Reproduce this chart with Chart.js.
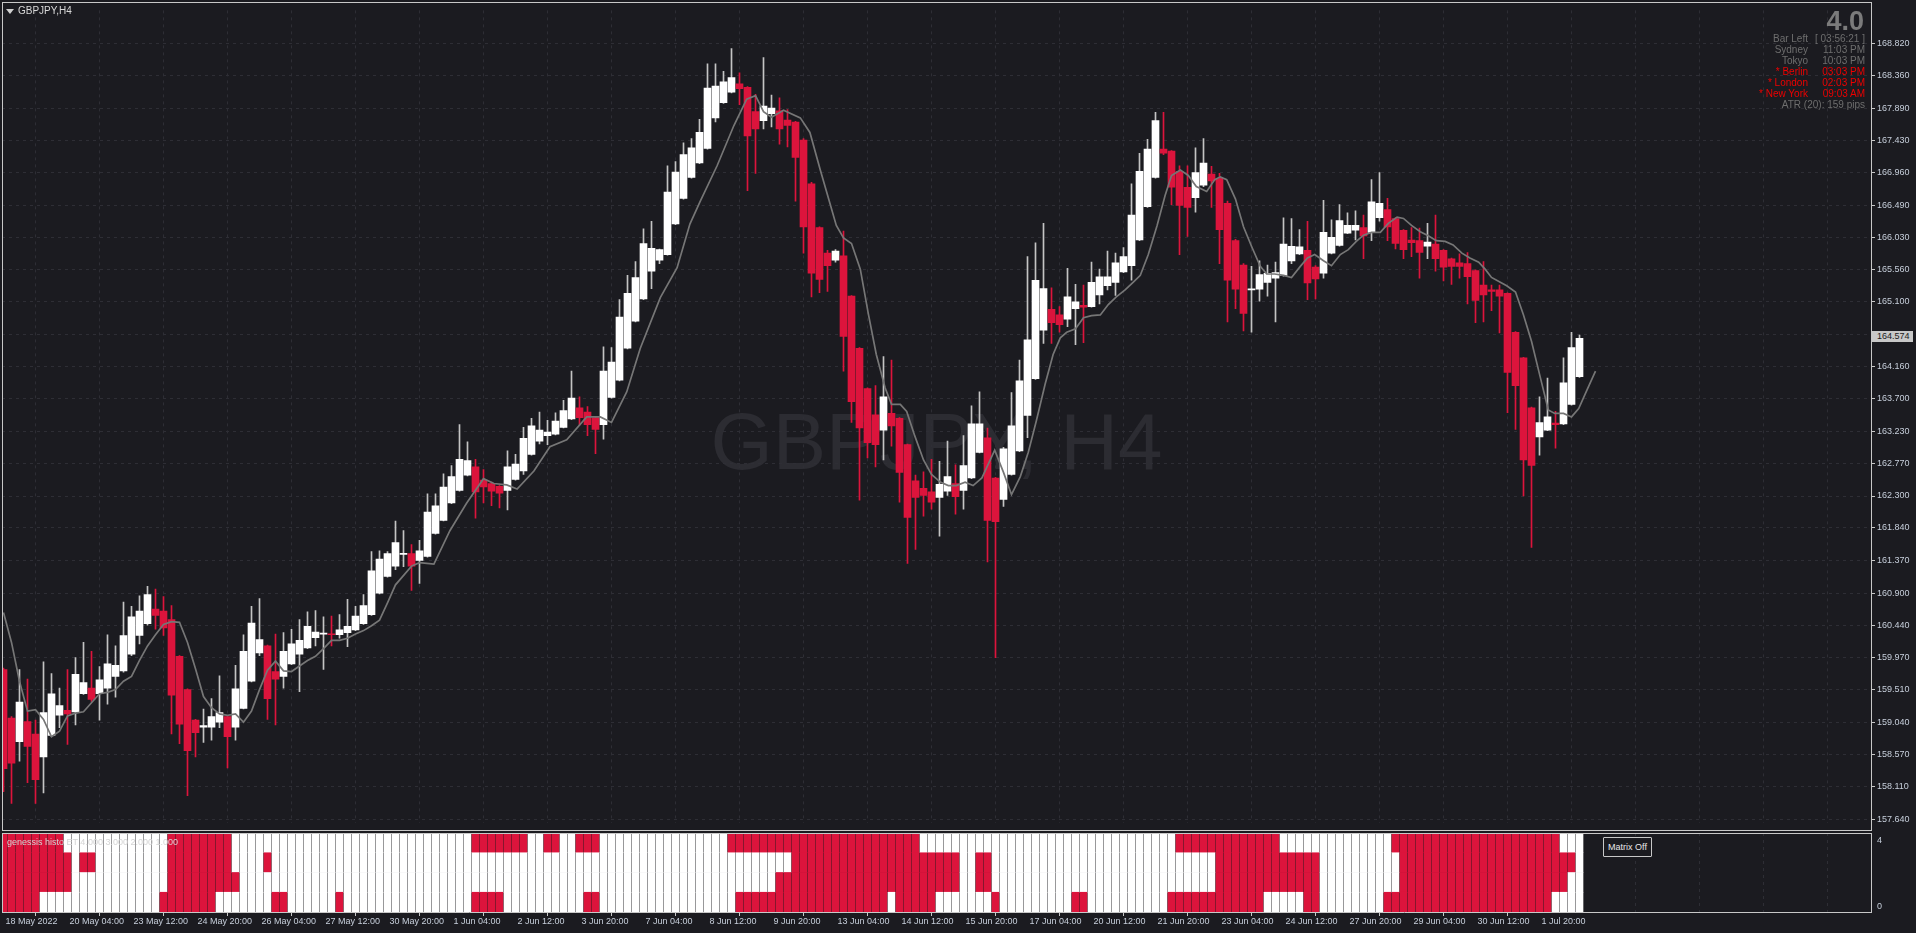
<!DOCTYPE html>
<html>
<head>
<meta charset="utf-8">
<script src="https://cdn.jsdelivr.net/npm/chart.js@4.4.0/dist/chart.umd.min.js"></script>
<style>
  html, body { margin: 0; padding: 0; width: 1916px; height: 933px; overflow: hidden;
    background: #1b1b20; font-family: "Liberation Sans", Arial, sans-serif; }
  canvas { position: absolute; z-index: 1; }
  #main { left: 2px; top: 3px; }
  #histo { left: 2px; top: 833px; }
  .frame { position: absolute; box-sizing: border-box; border: 1px solid #c8c8c8; z-index: 2; pointer-events: none; }
  .txt { position: absolute; z-index: 3; white-space: nowrap; }
  .info { font-size: 10px; line-height: 10px; text-align: right; }
  #watermark { position: absolute; left: 2px; top: 402px; width: 1869px; text-align: center;
    font-size: 80px; line-height: 80px; color: #2c2c32; z-index: 0; }
</style>
</head>
<body>
<div id="watermark">GBPJPY, H4</div>
<canvas id="main" width="1914" height="827" style="width:1914px;height:827px"></canvas>
<canvas id="histo" width="1914" height="100" style="width:1914px;height:100px"></canvas>
<div class="frame" style="left:2px;top:2px;width:1870px;height:829px"></div>
<div class="frame" style="left:2px;top:833px;width:1870px;height:80px;border-bottom:none;border-right:none"></div>

<div class="txt" style="left:6px;top:9px;width:0;height:0;border-left:4px solid transparent;border-right:4px solid transparent;border-top:5px solid #d0d0d0"></div>
<div class="txt" style="left:18px;top:6px;font-size:10px;line-height:10px;color:#d8d8d8">GBPJPY,H4</div>

<div class="txt" style="right:52px;top:8px;font-size:27px;line-height:27px;font-weight:bold;color:#7b7b7b">4.0</div>
<div class="txt info" style="right:108px;top:34px;color:#6e6e6e">Bar Left</div>
<div class="txt info" style="right:51px;top:34px;color:#6e6e6e">[ 03:56:21 ]</div>
<div class="txt info" style="right:108px;top:45px;color:#6e6e6e">Sydney</div>
<div class="txt info" style="right:51px;top:45px;color:#6e6e6e">11:03 PM</div>
<div class="txt info" style="right:108px;top:56px;color:#6e6e6e">Tokyo</div>
<div class="txt info" style="right:51px;top:56px;color:#6e6e6e">10:03 PM</div>
<div class="txt info" style="right:108px;top:67px;color:#ee0000">* Berlin</div>
<div class="txt info" style="right:51px;top:67px;color:#ee0000">03:03 PM</div>
<div class="txt info" style="right:108px;top:78px;color:#ee0000">* London</div>
<div class="txt info" style="right:51px;top:78px;color:#ee0000">02:03 PM</div>
<div class="txt info" style="right:108px;top:89px;color:#ee0000">* New York</div>
<div class="txt info" style="right:51px;top:89px;color:#ee0000">09:03 AM</div>
<div class="txt info" style="right:51px;top:100px;color:#6e6e6e">ATR (20): 159 pips</div>

<div class="txt" style="left:1872px;top:331px;width:41px;height:11px;background:#c8c8c8"></div>
<div class="txt" style="left:1877px;top:332px;font-size:9px;line-height:9px;color:#1b1b20">164.574</div>

<div class="txt" style="left:7px;top:838px;font-size:9px;line-height:9px;color:#d4d4d4">genessis histo ET 4.000 3.000 2.000 1.000</div>
<div class="txt" style="left:1877px;top:836px;font-size:9px;line-height:9px;color:#c7cfdb">4</div>
<div class="txt" style="left:1877px;top:902px;font-size:9px;line-height:9px;color:#c7cfdb">0</div>
<div class="txt" style="left:1603px;top:837px;width:49px;height:20px;box-sizing:border-box;border:1px solid #c8c8c8;border-radius:1px;background:#1b1b20;color:#e8e8e8;font-size:9px;line-height:18px;text-align:center">Matrix Off</div>

<script>
// GBPJPY H4 (Heikin-Ashi style candles)
var open = [159.80,159.10,158.76,159.05,158.87,158.54,158.85,159.14,159.21,159.19,
  159.45,159.53,159.45,159.53,159.70,159.78,160.02,160.29,160.46,160.67,
  160.64,160.52,159.99,159.51,159.07,158.97,158.97,159.04,159.12,158.97,
  159.24,159.63,160.04,160.14,159.77,159.70,159.88,160.02,160.11,160.26,
  160.31,160.31,160.30,160.33,160.37,160.46,160.59,160.90,161.14,161.29,
  161.46,161.47,161.37,161.43,161.76,161.95,162.20,162.38,162.60,162.72,
  162.53,162.48,162.44,162.38,162.54,162.66,162.90,163.09,163.17,163.19,
  163.29,163.41,163.57,163.51,163.43,163.33,163.72,163.97,164.43,164.82,
  165.14,165.54,165.70,165.78,166.22,166.59,166.89,167.10,167.31,167.75,
  167.97,168.12,168.24,168.19,167.84,167.71,167.81,167.85,167.72,167.69,
  167.43,166.80,166.17,165.80,165.70,165.76,165.18,164.43,163.85,163.47,
  163.25,163.49,163.42,163.04,162.52,162.41,162.36,162.28,162.37,162.48,
  162.38,162.56,162.93,163.14,162.56,162.25,162.61,162.95,163.46,163.99,
  164.69,164.99,164.91,164.85,165.00,165.05,165.03,165.20,165.33,165.38,
  165.53,165.62,165.99,166.47,166.89,167.30,167.27,166.98,166.75,166.60,
  166.78,166.94,166.88,166.52,165.98,165.63,165.27,165.28,165.38,165.44,
  165.48,165.69,165.79,165.84,165.60,165.51,165.80,165.91,166.09,166.13,
  166.17,166.10,166.31,166.43,166.30,166.13,165.99,165.98,165.90,165.93,
  165.84,165.72,165.66,165.65,165.55,165.34,165.27,165.27,165.22,164.66,
  164.29,163.57,163.15,163.25,163.35,163.34,163.62,164.02];
var high = [159.82,159.12,159.80,159.66,159.07,159.91,159.74,159.53,159.80,159.97,
  160.19,160.06,159.84,160.30,160.14,160.77,160.71,160.86,161.00,160.96,
  160.85,160.72,160.00,159.52,159.08,159.23,159.38,159.71,159.14,159.86,
  160.30,160.71,160.82,160.15,160.31,160.33,160.38,160.52,160.63,160.65,
  160.56,160.57,160.59,160.81,160.71,160.88,161.50,161.51,161.50,161.94,
  161.80,161.60,161.66,162.33,162.33,162.62,162.74,163.33,163.08,162.83,
  162.68,162.50,162.45,162.95,162.90,163.29,163.42,163.51,163.39,163.50,
  163.68,164.10,163.73,163.59,163.44,164.45,164.44,165.13,165.48,165.68,
  166.15,166.26,165.86,167.06,167.12,167.39,167.45,167.73,168.53,168.53,
  168.42,168.75,168.40,168.20,168.09,168.62,168.08,168.04,167.87,167.70,
  167.45,166.82,166.18,165.84,165.85,166.12,165.19,164.44,163.86,163.89,
  164.31,164.26,163.43,163.05,162.60,162.65,162.83,162.80,163.09,162.75,
  163.17,163.60,163.80,163.28,162.57,163.00,163.79,164.26,165.75,165.95,
  166.23,165.30,165.03,165.58,165.35,165.34,165.67,165.57,165.83,165.80,
  165.88,166.80,167.24,167.44,167.83,167.83,167.28,167.06,167.06,167.32,
  167.45,167.05,166.95,166.55,166.00,165.65,165.61,165.69,165.63,165.67,
  166.31,166.30,166.14,166.26,165.62,166.56,166.28,166.50,166.38,166.41,
  166.35,166.86,166.96,166.59,166.31,166.14,166.17,166.16,166.23,166.35,
  165.85,165.73,165.79,165.81,165.56,165.68,165.34,165.34,165.23,164.67,
  164.30,163.58,163.73,164.00,163.52,164.29,164.66,164.62];
var low = [158.04,157.87,158.48,158.17,157.87,158.02,158.83,158.96,158.72,159.00,
  159.44,159.34,159.07,159.30,159.40,159.76,160.00,160.17,160.44,160.38,
  160.29,158.87,158.73,157.98,158.54,158.75,158.78,158.96,158.38,158.78,
  159.23,159.62,160.00,159.08,159.00,159.53,159.87,159.48,160.10,160.14,
  159.80,160.14,160.25,160.13,160.36,160.45,160.58,160.89,161.13,161.24,
  161.28,160.94,161.04,161.42,161.75,161.94,162.19,162.37,162.59,161.98,
  162.20,162.16,162.13,162.10,162.53,162.61,162.89,163.05,163.04,163.18,
  163.28,163.40,163.32,163.17,162.91,163.12,163.71,163.96,164.42,164.81,
  165.13,165.29,165.65,165.77,166.21,166.58,166.88,167.09,167.30,167.69,
  167.96,168.11,167.94,166.70,166.95,167.59,167.62,167.37,167.33,166.55,
  165.80,165.17,165.23,165.25,165.67,164.10,163.36,162.24,162.85,162.72,
  162.82,163.02,162.21,161.33,161.53,162.01,162.11,161.72,162.31,162.04,
  162.11,162.55,162.92,161.35,159.97,162.15,162.60,162.94,163.14,163.98,
  164.50,164.50,164.66,164.74,164.48,164.51,165.02,165.07,165.27,165.19,
  165.52,165.41,165.98,166.46,166.88,167.22,166.50,165.78,166.04,166.39,
  166.76,166.46,165.65,164.81,165.00,164.68,164.66,165.11,165.18,164.81,
  165.47,165.65,165.78,165.13,165.14,165.44,165.79,165.90,166.08,165.99,
  165.72,165.98,166.26,165.98,165.86,165.72,165.75,165.44,165.72,165.54,
  165.40,165.35,165.44,165.07,164.80,164.81,164.97,164.65,163.50,163.26,
  162.30,161.56,162.89,163.24,162.99,163.33,163.61,164.01];
var close = [158.37,158.45,159.33,158.69,158.21,159.18,159.45,159.28,159.16,159.73,
  159.61,159.37,159.65,159.88,159.86,160.29,160.56,160.64,160.88,160.58,
  160.40,159.43,159.01,158.63,158.89,158.99,159.12,159.18,158.83,159.52,
  160.06,160.47,160.23,159.38,159.66,160.06,160.17,160.22,160.42,160.34,
  160.32,160.30,160.37,160.42,160.57,160.72,161.22,161.39,161.47,161.63,
  161.47,161.29,161.51,162.07,162.16,162.43,162.58,162.83,162.81,162.36,
  162.43,162.37,162.34,162.72,162.76,163.13,163.31,163.25,163.22,163.38,
  163.53,163.71,163.43,163.33,163.26,164.10,164.23,164.88,165.22,165.45,
  165.94,165.87,165.85,166.68,166.97,167.22,167.32,167.54,168.18,168.21,
  168.27,168.33,168.17,167.49,167.59,167.92,167.89,167.59,167.64,167.18,
  166.18,165.51,165.42,165.62,165.83,164.60,163.66,163.28,163.07,163.04,
  163.73,163.31,162.64,161.99,162.28,162.31,162.21,162.47,162.58,162.29,
  162.74,163.34,163.34,161.95,161.93,162.98,163.31,163.96,164.55,165.41,
  165.29,164.80,164.77,165.17,165.10,165.02,165.38,165.46,165.46,165.66,
  165.75,166.35,166.98,167.30,167.71,167.24,166.75,166.49,166.46,166.96,
  167.10,166.84,166.14,165.41,165.28,164.93,165.28,165.49,165.51,165.52,
  165.93,165.90,165.89,165.37,165.43,166.10,166.03,166.27,166.20,166.20,
  166.05,166.54,166.52,166.18,165.94,165.85,165.95,165.81,165.96,165.72,
  165.60,165.61,165.61,165.46,165.12,165.20,165.25,165.18,164.08,163.89,
  162.82,162.74,163.36,163.44,163.33,163.93,164.44,164.574];

// moving average line (drawn 2 bars ahead of price in the picture)
var maIdx = [0,1,2,3,4,5,6,7,8,9,10,11,12,13,14,15,16,17,18,19,20,21,22,23,24,25,26,27,28,29,
  30,31,32,33,34,35,36,37,38,39,40,41,42,43,44,45,46,47,48,49,
  51,52,53.8,55.8,57.9,60,61.3,62.9,64.2,66.3,68.3,70.4,72.9,74.6,76,77.9,79.6,82.1,84.2,85.8,87.1,89.2,91.3,92.9,94,95,96,97.5,
  99.6,100.8,102.1,103.3,104.1,105,106,107.1,108.1,109.1,110.2,111,112.1,112.9,113.9,115,116,117.1,118.1,119.1,120.2,121.2,122.3,
  123.9,125,126,127.1,128.1,129.1,130.2,131.2,132.1,132.9,134,135,136,137.1,138.1,139.1,140.2,141.2,142.1,143.1,144.2,145.2,146,147.1,148.1,149.1,
  150.4,151.4,152.1,152.9,154,155,156,157.1,157.9,158.9,160,161,162.1,163,163.9,165,166,167.1,168.1,169.1,170,171,172.1,173.1,174.2,175,176,
  177.1,178.1,179.1,180.2,181.2,182.3,183.3,184.4,185.2,186,187.1,187.9,189,190,191,192.1,193.1,193.9,195,196,196.9,197.9,199];
var maVal = [160.62,160.19,159.63,159.20,159.22,159.08,158.83,158.91,159.13,159.17,
  159.19,159.32,159.45,159.47,159.51,159.63,159.70,159.93,160.14,160.30,
  160.45,160.49,160.48,160.19,159.81,159.41,159.25,159.16,159.14,159.16,
  159.04,159.20,159.51,159.79,159.92,159.78,159.77,159.85,159.93,159.99,
  160.10,160.22,160.22,160.25,160.31,160.36,160.43,160.51,160.76,161.02,
  161.29,161.34,161.32,161.80,162.20,162.55,162.48,162.46,162.40,162.66,163.01,163.11,163.44,163.44,163.36,163.80,164.43,165.16,165.59,166.22,166.55,167.06,167.64,168.02,168.07,167.84,167.76,167.86,
  167.75,167.54,167.00,166.52,166.20,166.02,165.94,165.57,164.93,164.34,163.86,163.62,163.62,163.52,163.17,162.82,162.61,162.50,162.45,162.45,162.50,162.45,162.56,
  162.96,162.64,162.32,162.58,162.93,163.38,163.91,164.34,164.58,164.66,164.71,164.87,164.90,164.91,165.06,165.17,165.27,165.38,165.48,165.78,166.20,166.63,166.92,167.00,166.92,166.76,
  166.69,166.86,166.90,166.86,166.58,166.18,165.90,165.61,165.50,165.50,165.48,165.45,165.61,165.73,165.78,165.69,165.62,165.78,165.85,165.97,166.06,166.10,166.10,166.23,166.32,166.30,166.20,
  166.11,166.05,165.98,165.97,165.92,165.80,165.73,165.67,165.57,165.45,165.38,165.33,165.24,164.91,164.53,164.01,163.54,163.49,163.49,163.44,163.56,163.82,164.10];

// genessis histo matrix: red cell ranges [from, to] per row, every other cell white
var row4Red = [[0,7],[21,28],[59,65],[68,69],[72,74],[91,114],[147,159],[174,194]];
var row3Red = [[0,8],[10,11],[21,28],[33,33],[99,119],[122,123],[152,164],[175,196]];
var row2Red = [[0,8],[21,29],[97,119],[122,123],[152,164],[175,195]];
var row1Red = [[0,4],[20,26],[34,35],[42,42],[59,62],[73,74],[92,110],[112,116],[124,124],[134,135],[146,157],[163,164],[173,193]];

var tickLabels = ['18 May 2022','20 May 04:00','23 May 12:00','24 May 20:00','26 May 04:00','27 May 12:00',
  '30 May 20:00','1 Jun 04:00','2 Jun 12:00','3 Jun 20:00','7 Jun 04:00','8 Jun 12:00','9 Jun 20:00',
  '13 Jun 04:00','14 Jun 12:00','15 Jun 20:00','17 Jun 04:00','20 Jun 12:00','21 Jun 20:00','23 Jun 04:00',
  '24 Jun 12:00','27 Jun 20:00','29 Jun 04:00','30 Jun 12:00','1 Jul 20:00'];
var priceTicks = [157.64,158.11,158.57,159.04,159.51,159.97,160.44,160.90,161.37,161.84,162.30,162.77,163.23,
  163.70,164.16,164.63,165.10,165.56,166.03,166.49,166.96,167.43,167.89,168.36,168.82];

var RED = '#dc143c';
var GRID = '#2e2e35';
var AXIS = '#c8c8c8';
var LABEL = '#c7cfdb';
var X_MIN = -0.1875, X_MAX = 233.4375;

var idx = open.map(function (v, i) { return i; });
var up = idx.map(function (i) { return close[i] >= open[i]; });
var gridIdx = [];
for (var t = 0; t * 8 <= 232; t++) gridIdx.push(t * 8);

function isRed(ranges, i) {
  return ranges.some(function (r) { return i >= r[0] && i <= r[1]; });
}

new Chart(document.getElementById('main'), {
  type: 'bar',
  data: {
    datasets: [
      {
        data: idx.map(function (i) { return { x: i, y: [low[i], high[i]] }; }),
        backgroundColor: idx.map(function (i) { return up[i] ? '#c4c4c4' : RED; }),
        barThickness: 1, grouped: false, order: 3
      },
      {
        data: idx.map(function (i) { return { x: i, y: [open[i], close[i]] }; }),
        backgroundColor: idx.map(function (i) { return up[i] ? '#ffffff' : RED; }),
        barThickness: 7, minBarLength: 1, grouped: false, order: 2
      },
      {
        type: 'line',
        data: maIdx.map(function (k, j) { return { x: k, y: maVal[j] }; }),
        borderColor: '#767676', borderWidth: 1.7, pointRadius: 0, tension: 0, order: 1
      }
    ]
  },
  options: {
    responsive: false,
    animation: false,
    layout: { padding: 0 },
    plugins: { legend: { display: false }, tooltip: { enabled: false } },
    scales: {
      x: {
        type: 'linear', min: X_MIN, max: X_MAX, offset: false,
        afterBuildTicks: function (s) { s.ticks = gridIdx.map(function (v) { return { value: v }; }); },
        afterFit: function (s) { s.height = 0; },
        ticks: { display: false },
        grid: { color: GRID, drawTicks: false },
        border: { display: false, dash: [3, 4] }
      },
      y: {
        position: 'right', min: 157.593, max: 169.299,
        afterBuildTicks: function (s) { s.ticks = priceTicks.map(function (v) { return { value: v }; }); },
        afterFit: function (s) { s.width = 45; },
        ticks: {
          color: LABEL, padding: 2, autoSkip: false,
          font: { family: 'Liberation Sans', size: 9 },
          callback: function (v) { return Number(v).toFixed(3); }
        },
        grid: { color: GRID, tickColor: AXIS, tickLength: 4 },
        border: { display: true, color: AXIS, dash: [3, 4] }
      }
    }
  }
});

var rows = [row1Red, row2Red, row3Red, row4Red];
new Chart(document.getElementById('histo'), {
  type: 'bar',
  data: {
    datasets: rows.map(function (ranges, r) {
      return {
        data: idx.map(function (i) { return { x: i, y: [r, r + 1] }; }),
        backgroundColor: idx.map(function (i) { return isRed(ranges, i) ? RED : '#ffffff'; }),
        barThickness: 7, grouped: false
      };
    })
  },
  options: {
    responsive: false,
    animation: false,
    layout: { padding: 0 },
    plugins: { legend: { display: false }, tooltip: { enabled: false } },
    scales: {
      x: {
        type: 'linear', min: X_MIN, max: X_MAX, offset: false,
        afterBuildTicks: function (s) { s.ticks = gridIdx.map(function (v) { return { value: v }; }); },
        afterFit: function (s) { s.height = 21; },
        ticks: {
          color: LABEL, autoSkip: false, maxRotation: 0, minRotation: 0,
          align: 'start', labelOffset: 2, padding: 0,
          font: { family: 'Liberation Sans', size: 9 },
          callback: function (v, i) { return tickLabels[i] || ''; }
        },
        grid: {
          color: GRID, tickLength: 4,
          tickColor: function (c) { return c.index < tickLabels.length ? AXIS : 'rgba(0,0,0,0)'; }
        },
        border: { display: true, color: AXIS, dash: [3, 4] }
      },
      y: {
        position: 'right', min: 0, max: 4,
        afterFit: function (s) { s.width = 45; },
        ticks: { display: false },
        grid: { display: false },
        border: { display: true, color: AXIS }
      }
    }
  }
});
</script>
</body>
</html>
